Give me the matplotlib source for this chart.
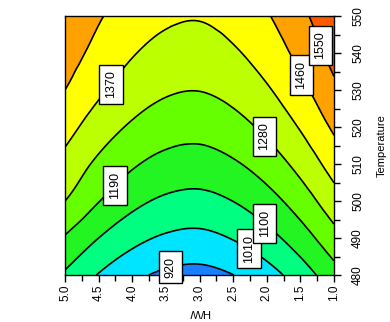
import numpy as np
import matplotlib
matplotlib.use("Agg")
import matplotlib.pyplot as plt
import matplotlib.tri as mtri
from matplotlib.ticker import MultipleLocator, FormatStrFormatter

plt.rcParams["font.family"] = ["Liberation Sans", "DejaVu Sans"]

# Response surface sampled on the H/W x Temperature grid
hw_values = [5.0, 4.5, 4.0, 3.5, 3.0, 2.5, 2.0, 1.5, 1.0]
temperature_values = [480, 490, 500, 510, 520, 530, 540, 550]
response_480 = [1087, 1005, 943, 903, 892, 919, 974, 1054, 1154]
response_490 = [1182, 1100, 1037, 998, 987, 1015, 1069, 1148, 1247]
response_500 = [1280, 1193, 1125, 1085, 1074, 1101, 1155, 1233, 1332]
response_510 = [1342, 1262, 1201, 1162, 1152, 1179, 1232, 1309, 1407]
response_520 = [1403, 1326, 1268, 1231, 1221, 1248, 1301, 1377, 1474]
response_530 = [1460, 1385, 1327, 1291, 1282, 1308, 1360, 1436, 1531]
response_540 = [1503, 1432, 1376, 1342, 1333, 1359, 1411, 1486, 1580]
response_550 = [1537, 1469, 1417, 1385, 1376, 1402, 1453, 1527, 1621]

contour_levels = [920, 1010, 1100, 1190, 1280, 1370, 1460, 1550]
band_colors = ["#1a7fff", "#00e5ff", "#00ff80", "#22f522", "#66ff00",
               "#bbff00", "#ffff00", "#ffa200", "#ff5a00"]

rows = [response_480, response_490, response_500, response_510,
        response_520, response_530, response_540, response_550]
Z = np.array(rows, dtype=float)
H, T = np.meshgrid(hw_values, temperature_values)

# smooth the gridded surface with a cubic interpolator (T scaled to H spacing)
tscale = 0.05
tri = mtri.Triangulation(H.ravel(), (T.ravel() - 480) * tscale)
interp = mtri.CubicTriInterpolator(tri, Z.ravel(), kind="geom")
hf = np.linspace(1.0, 5.0, 321)
tf = np.linspace(480, 550, 281)
Hf, Tf = np.meshgrid(hf, tf)
Zf = np.asarray(interp(Hf, (Tf - 480) * tscale))

fig = plt.figure(figsize=(3.9, 3.22), dpi=100)
ax = fig.add_axes([65 / 390, 47 / 322, 269 / 390, 259 / 322])

fill_levels = [0] + contour_levels + [3000]
ax.contourf(Hf, Tf, Zf, levels=fill_levels, colors=band_colors)
cs = ax.contour(Hf, Tf, Zf, levels=contour_levels, colors="k", linewidths=1.2)

# label placements along the contour lines
label_spots = [(3.43, 482.4), (2.24, 487.8), (1.99, 494.9), (4.30, 504.9),
               (1.99, 518.4), (4.36, 532.2), (1.46, 534.3), (1.24, 541.9)]
labels = ax.clabel(cs, contour_levels, manual=label_spots, inline=False,
                   fmt="%d", fontsize=9)
for t in labels:
    t.set_rotation(90)
    t.set_zorder(6)
    t.set_clip_on(False)
    t.set_bbox(dict(boxstyle="square,pad=0.45", fc="white", ec="black", lw=1.0))

ax.set_xlim(5.0, 1.0)
ax.set_ylim(480, 550)

ax.xaxis.set_major_locator(MultipleLocator(0.5))
ax.xaxis.set_minor_locator(MultipleLocator(0.25))
ax.xaxis.set_major_formatter(FormatStrFormatter("%.1f"))
ax.yaxis.set_major_locator(MultipleLocator(10))
ax.yaxis.set_minor_locator(MultipleLocator(5))
ax.yaxis.tick_right()
ax.yaxis.set_label_position("right")

ax.tick_params(axis="both", which="major", direction="out", length=5,
               width=1.0, labelsize=8.5, color="black")
ax.tick_params(axis="both", which="minor", direction="out", length=4,
               width=1.0, color="black")
ax.tick_params(axis="x", labelrotation=90, pad=2)
ax.tick_params(axis="y", labelrotation=90, pad=8)
for lbl in ax.get_yticklabels():
    lbl.set_verticalalignment("center")

for sp in ax.spines.values():
    sp.set_linewidth(1.0)
    sp.set_color("black")

ax.set_xlabel("H/W", fontsize=8, rotation=180, labelpad=4)
ax.set_ylabel("Temperature", fontsize=8, rotation=90, labelpad=9)

fig.savefig("out.png", dpi=100)
